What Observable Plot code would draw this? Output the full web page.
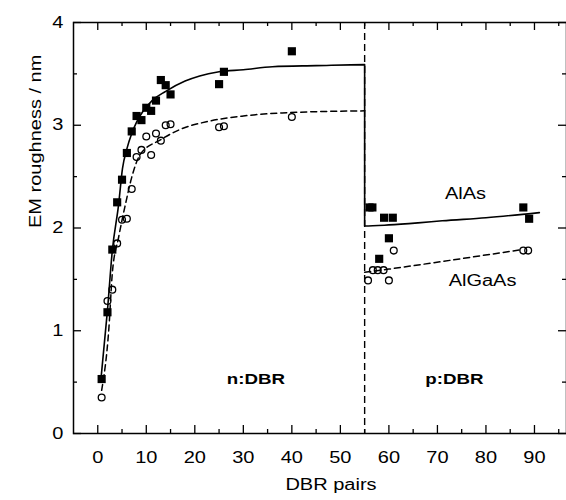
<!DOCTYPE html>
<html><head><meta charset="utf-8">
<script src="https://cdn.jsdelivr.net/npm/d3@7"></script>
<script src="https://cdn.jsdelivr.net/npm/@observablehq/plot@0.6"></script>
<style>body{margin:0;background:#fff}</style>
</head><body><div id="chart"></div>
<script>
// n:DBR measurements
const nPairs = [0.8,2,3,4,5,6,7,8,9,10,11,12,13,14,15,25,26,40];
const alAsN = [0.53,1.18,1.79,2.25,2.47,2.73,2.94,3.09,3.05,3.17,3.14,3.24,3.44,3.39,3.30,3.40,3.52,3.72];
const alGaAsN = [0.35,1.29,1.40,1.85,2.08,2.09,2.38,2.69,2.76,2.89,2.71,2.92,2.85,3.00,3.01,2.98,2.99,3.08];
// p:DBR measurements
const pPairsSq = [56,56.6,58,59,60,60.8,87.7,88.9];
const alAsP = [2.2,2.2,1.7,2.1,1.9,2.1,2.2,2.09];
const pPairsCi = [55.7,56.7,57.7,58.9,60,61,87.7,88.7];
const alGaAsP = [1.49,1.59,1.59,1.59,1.49,1.78,1.78,1.78];
// fitted curves
const fitAlAsX = [0.6,2,3,4.3,5.1,6,7,8,11.2,14,18,21,25,30,36,45,55,55,60,66,71,80,91];
const fitAlAsY = [0.5,1.2,1.78,2.23,2.58,2.77,2.92,3.03,3.24,3.33,3.43,3.48,3.52,3.54,3.57,3.58,3.59,2.02,2.03,2.05,2.07,2.1,2.15];
const fitAlGaAsNX = [0.8,2.3,3,4.3,5.7,7.1,8.8,13,17,23,30,38,55];
const fitAlGaAsNY = [0.42,1.03,1.56,1.91,2.23,2.51,2.72,2.86,2.96,3.04,3.09,3.12,3.14];
const fitAlGaAsPX = [55,60,69,87.5];
const fitAlGaAsPY = [1.57,1.6,1.66,1.79];
const boundary = 55;
// ticks and labels
const xMajor = [0,10,20,30,40,50,60,70,80,90];
const xMinor = [5,15,25,35,45,55,65,75,85,95];
const yMajor = [0,1,2,3,4];
const yMinor = [0.5,1.5,2.5,3.5];
const xTitle = "DBR pairs";
const yTitle = "EM roughness / nm";
const regionLabels = [{t:"n:DBR", x:32.6, y:0.53},{t:"p:DBR", x:73.5, y:0.53}];
const seriesLabels = [{t:"AlAs", x:75.8, y:2.33},{t:"AlGaAs", x:79.3, y:1.49}];

const W = 566, H = 500, mT = 22, mB = 67, mL = 73, mR = 0;
const iw = W - mL - mR, ih = H - mT - mB;
const zip = (xs, ys) => xs.map((x,i)=>({x, y: ys[i]}));

const chart = Plot.plot({
  width: W, height: H, marginTop: mT, marginBottom: mB, marginLeft: mL, marginRight: mR,
  style: {fontFamily: "'Liberation Sans', Arial, sans-serif", fontSize: "16px", color: "#000", background: "#fff"},
  x: {domain: [-5, 96.6]},
  y: {domain: [0, 4]},
  marks: [
    Plot.axisX(xMajor, {tickSize: 0, tickPadding: 18, fontSize: 16, label: null}),
    Plot.axisY(yMajor, {tickSize: 0, tickPadding: 10, fontSize: 16, label: null, tickFormat: d => d.toFixed(0)}),
    // inward ticks
    Plot.tickX(xMajor, {x: d=>d, insetTop: ih-8, strokeWidth: 1.3}),
    Plot.tickX(xMinor, {x: d=>d, insetTop: ih-4, strokeWidth: 1.3}),
    Plot.tickX(xMajor, {x: d=>d, insetBottom: ih-8, strokeWidth: 1.3}),
    Plot.tickX(xMinor, {x: d=>d, insetBottom: ih-4, strokeWidth: 1.3}),
    Plot.tickY(yMajor, {y: d=>d, insetRight: iw-8, strokeWidth: 1.3}),
    Plot.tickY(yMinor, {y: d=>d, insetRight: iw-4, strokeWidth: 1.3}),
    Plot.tickY(yMajor, {y: d=>d, insetLeft: iw-8, strokeWidth: 1.3}),
    Plot.tickY(yMinor, {y: d=>d, insetLeft: iw-4, strokeWidth: 1.3}),
    Plot.ruleX([boundary], {x: d=>d, strokeWidth: 1.4, strokeDasharray: "7,4"}),
    Plot.line(zip(fitAlAsX, fitAlAsY), {x: "x", y: "y", strokeWidth: 1.6, curve: "monotone-x"}),
    Plot.line(zip(fitAlGaAsNX, fitAlGaAsNY), {x: "x", y: "y", strokeWidth: 1.5, strokeDasharray: "6,4", curve: "monotone-x"}),
    Plot.line(zip(fitAlGaAsPX, fitAlGaAsPY), {x: "x", y: "y", strokeWidth: 1.5, strokeDasharray: "6,4"}),
    Plot.dot(zip(nPairs, alGaAsN).concat(zip(pPairsCi, alGaAsP)), {x: "x", y: "y", r: 3.4, stroke: "#000", strokeWidth: 1.3, fill: "none"}),
    Plot.dot(zip(nPairs, alAsN).concat(zip(pPairsSq, alAsP)), {x: "x", y: "y", r: 4.6, symbol: "square", fill: "#000", stroke: "none"}),
    Plot.text(regionLabels, {x: "x", y: "y", text: "t", fontWeight: "bold", fontSize: 15}),
    Plot.text(seriesLabels, {x: "x", y: "y", text: "t", fontSize: 16}),
    Plot.text([xTitle], {frameAnchor: "bottom", text: d=>d, dy: 56, dx: 11, fontSize: 16}),
    Plot.text([yTitle], {frameAnchor: "left", text: d=>d, rotate: -90, dx: -38, fontSize: 16}),
    Plot.frame({strokeWidth: 1.5})
  ]
});
// the reference typeface is wide: stretch each label along its baseline about its anchor
const S = 1.25;
chart.querySelectorAll("text").forEach(t => {
  let x = parseFloat(t.getAttribute("x"));
  if (!isFinite(x)) x = 0;
  const tr = t.getAttribute("transform") || "";
  t.setAttribute("transform", `${tr} translate(${x},0) scale(${S},1) translate(${-x},0)`.trim());
});
document.getElementById("chart").appendChild(chart);
</script>
</body></html>
